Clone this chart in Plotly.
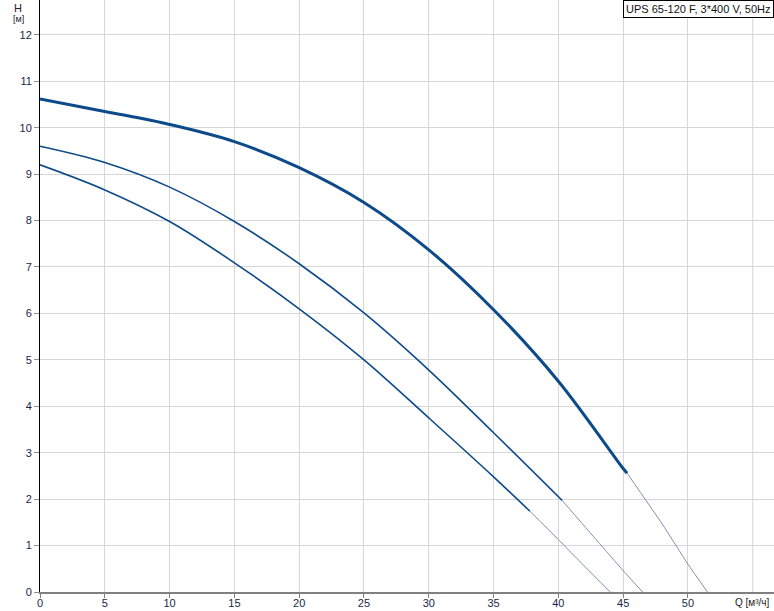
import plotly.graph_objects as go

# Curve 1 (max speed)
q1 = [0, 5, 10, 15, 20, 25, 30, 35, 40, 45, 45.3]
h1 = [10.62, 10.35, 10.07, 9.70, 9.14, 8.39, 7.37, 6.08, 4.54, 2.66, 2.56]
q1_ext = [45.3, 48, 50, 51.5]
h1_ext = [2.56, 1.47, 0.60, 0.0]

# Curve 2
q2 = [0, 5, 10, 15, 20, 25, 30, 35, 40.3]
h2 = [9.60, 9.25, 8.72, 7.98, 7.07, 6.01, 4.78, 3.43, 1.97]
q2_ext = [40.3, 43, 45, 46.5]
h2_ext = [1.97, 1.10, 0.46, 0.0]

# Curve 3
q3 = [0, 5, 10, 15, 20, 25, 30, 35, 37.8]
h3 = [9.20, 8.66, 7.98, 7.09, 6.10, 5.00, 3.75, 2.48, 1.74]
q3_ext = [37.8, 40, 42, 44.0]
h3_ext = [1.74, 1.13, 0.56, 0.0]

x_ticks = [0, 5, 10, 15, 20, 25, 30, 35, 40, 45, 50]
y_ticks = list(range(0, 13))

title_text = "UPS 65-120 F, 3*400 V, 50Hz"

W, H = 774, 611
ML, MR, MT, MB = 40, 0, 0, 19

main_col = "#0d4a8a"
ext_col = "#7f8fb5"
font_fam = "Liberation Sans, Arial, sans-serif"
tick_col = "#1a1f4a"

fig = go.Figure()
for q, h, w in [(q1, h1, 3), (q2, h2, 1.6), (q3, h3, 1.6)]:
    fig.add_trace(go.Scatter(x=q, y=h, mode="lines",
                             line=dict(color=main_col, width=w, shape="spline", smoothing=1.0),
                             showlegend=False, hoverinfo="skip"))
for q, h in [(q1_ext, h1_ext), (q2_ext, h2_ext), (q3_ext, h3_ext)]:
    fig.add_trace(go.Scatter(x=q, y=h, mode="lines",
                             line=dict(color=ext_col, width=1, shape="spline", smoothing=0.5),
                             showlegend=False, hoverinfo="skip"))

pw = W - ML - MR
ph = H - MT - MB

fig.update_layout(
    width=W, height=H,
    margin=dict(l=ML, r=MR, t=MT, b=MB),
    paper_bgcolor="white", plot_bgcolor="white",
    font=dict(family=font_fam, size=11, color=tick_col),
    xaxis=dict(range=[0, 56.64], tickvals=x_ticks, ticktext=[str(v) for v in x_ticks],
               showgrid=True, gridcolor="#d6d6d6", gridwidth=1,
               showline=True, linecolor="#808080", linewidth=2,
               ticks="outside", ticklen=4, tickcolor="#808080", automargin=False,
               ticklabelstandoff=-4,
               zeroline=False, tickfont=dict(size=11, color=tick_col, family=font_fam)),
    yaxis=dict(range=[0, 12.75], tickvals=y_ticks, ticktext=[str(v) for v in y_ticks],
               showgrid=True, gridcolor="#d6d6d6", gridwidth=1,
               showline=True, linecolor="black", linewidth=1,
               ticks="outside", ticklen=5, tickcolor="#909090", automargin=False,
               zeroline=False, tickfont=dict(size=11, color=tick_col, family=font_fam)),
)
# Extra vertical gridline at 55 (beyond last labeled tick)
fig.add_vline(x=55, line=dict(color="#d6d6d6", width=1), layer="below")

fig.add_annotation(text=title_text, xref="paper", yref="paper", x=1, y=1,
                   xanchor="right", yanchor="top", showarrow=False,
                   bgcolor="white", bordercolor="black", borderwidth=1, borderpad=2,
                   font=dict(size=11, color="#111111", family=font_fam))
fig.add_annotation(text="H", xref="paper", yref="paper", x=(18 - ML) / pw, y=1 - (0 - MT) / ph,
                   xanchor="center", yanchor="top", showarrow=False,
                   font=dict(size=11, color="#222", family=font_fam))
fig.add_annotation(text="[м]", xref="paper", yref="paper", x=(18 - ML) / pw, y=1 - (12 - MT) / ph,
                   xanchor="center", yanchor="top", showarrow=False,
                   font=dict(size=9, color="#222", family=font_fam))
fig.add_annotation(text="Q [м³/ч]", xref="paper", yref="paper", x=(772 - ML) / pw, y=-(3) / ph,
                   xanchor="right", yanchor="top", showarrow=False,
                   font=dict(size=10, color="#222", family=font_fam))

fig.write_html("out.html", config={"displayModeBar": False},
               post_script="document.body.style.margin='0';document.body.style.overflow='hidden';")
